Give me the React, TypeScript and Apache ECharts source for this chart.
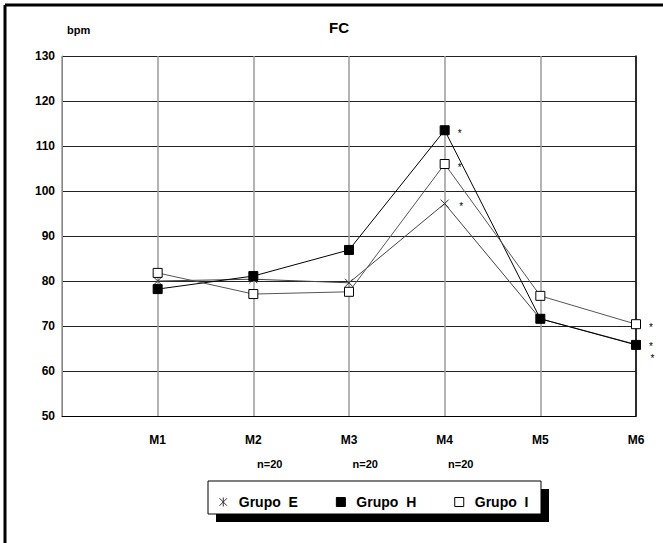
import React, { useEffect, useRef } from 'react';
import * as echarts from 'echarts';

const categories = ['M1', 'M2', 'M3', 'M4', 'M5', 'M6'];
const yTicks = [50, 60, 70, 80, 90, 100, 110, 120, 130];
const grupoE = [80.0, 80.4, 79.6, 97.2, 71.6, 65.9];
const grupoH = [78.2, 81.1, 86.9, 113.5, 71.6, 65.8];
const grupoI = [81.8, 77.1, 77.6, 106.0, 76.7, 70.4];
const signifE = [false, false, false, true, false, true];
const signifH = [false, false, false, true, false, true];
const signifI = [false, false, false, true, false, true];
const nLabels = ['n=20', 'n=20', 'n=20'];

const FONT = '"Liberation Sans", Arial, sans-serif';

function build(values: number[], sig: boolean[], lastShift: number) {
  return values.map((v, i) => ({
    value: [i + 1, v],
    label: sig[i]
      ? {
          show: true,
          formatter: '*',
          position: 'right',
          distance: 8,
          fontSize: 10,
          lineHeight: 7,
          fontFamily: FONT,
          color: '#000',
          offset: i === values.length - 1 ? [0, 3 + lastShift] : [0, 3],
        }
      : { show: false },
  }));
}

export default function App() {
  const ref = useRef<HTMLDivElement>(null);
  useEffect(() => {
    document.body.style.margin = '0';
    const chart = echarts.init(ref.current!, null, { renderer: 'svg' });
    const xMarker = 'path://M0,0L10,10M10,0L0,10';
    const asterisk = 'path://M0,0L10,10M10,0L0,10M5,-1L5,11';
    chart.setOption({
      animation: false,
      backgroundColor: '#fff',
      grid: { left: 62, right: 27, top: 56, bottom: 127 },
      xAxis: {
        type: 'value',
        min: 0,
        max: 6,
        interval: 1,
        axisLine: { show: true, lineStyle: { color: '#000', width: 1 } },
        axisTick: { show: false },
        axisLabel: {
          formatter: (v: number) => (v === 0 ? '' : categories[v - 1]),
          margin: 18,
          fontSize: 12,
          fontWeight: 'bold',
          fontFamily: FONT,
          color: '#000',
        },
        splitLine: { show: true, lineStyle: { color: '#9a9a9a', width: 1.5 } },
      },
      yAxis: [
        {
          type: 'value',
          min: yTicks[0],
          max: yTicks[yTicks.length - 1],
          interval: 10,
          axisLine: { show: true, lineStyle: { color: '#888', width: 1 } },
          axisTick: { show: false },
          axisLabel: {
            margin: 7,
            fontSize: 12,
            fontWeight: 'bold',
            fontFamily: FONT,
            color: '#000',
          },
          splitLine: { show: true, lineStyle: { color: '#222', width: 1 } },
        },
        {
          type: 'value',
          position: 'right',
          min: yTicks[0],
          max: yTicks[yTicks.length - 1],
          interval: 10,
          axisLine: { show: true, lineStyle: { color: '#000', width: 1.5 } },
          axisTick: { show: false },
          axisLabel: { show: false },
          splitLine: { show: false },
        },
      ],
      legend: {
        left: 212,
        top: 490,
        itemGap: 38,
        itemWidth: 9,
        itemHeight: 9,
        z: 10,
        formatter: (name: string) => name.replace(' ', '  '),
        textStyle: { fontSize: 14, fontWeight: 'bold', fontFamily: FONT, color: '#000', padding: [0, 0, 0, 6] },
        data: [
          { name: 'Grupo E', icon: asterisk, itemStyle: { color: 'none', borderColor: '#333', borderWidth: 1 } },
          { name: 'Grupo H', icon: 'rect', itemStyle: { color: '#000', borderColor: '#000', borderWidth: 1 } },
          { name: 'Grupo I', icon: 'rect', itemStyle: { color: '#fff', borderColor: '#000', borderWidth: 1 } },
        ],
      },
      graphic: [
        { type: 'line', shape: { x1: 5, y1: 5, x2: 663, y2: 5 }, style: { stroke: '#000', lineWidth: 3 } },
        { type: 'line', shape: { x1: 5, y1: 5, x2: 5, y2: 543 }, style: { stroke: '#000', lineWidth: 3 } },
        { type: 'text', left: 329, top: 20, style: { text: 'FC', font: `bold 15px ${FONT}`, fill: '#000' } },
        { type: 'text', left: 67, top: 24, style: { text: 'bpm', font: `bold 11px ${FONT}`, fill: '#000' } },
        ...nLabels.map((t, i) => ({
          type: 'text',
          left: 257 + i * 95.5,
          top: 458,
          style: { text: t, font: `bold 11px ${FONT}`, fill: '#000' },
        })),
        { type: 'rect', z: 1, shape: { x: 216, y: 489, width: 333, height: 33 }, style: { fill: '#000' } },
        { type: 'rect', z: 2, shape: { x: 208, y: 481, width: 333, height: 33 }, style: { fill: '#fff', stroke: '#000', lineWidth: 1 } },
      ],
      series: [
        {
          name: 'Grupo E',
          type: 'line',
          data: build(grupoE, signifE, 11),
          symbol: xMarker,
          symbolSize: 8,
          lineStyle: { color: '#444', width: 1 },
          itemStyle: { color: 'none', borderColor: '#333', borderWidth: 1 },
          z: 3,
        },
        {
          name: 'Grupo H',
          type: 'line',
          data: build(grupoH, signifH, -1),
          symbol: 'rect',
          symbolSize: 9,
          lineStyle: { color: '#000', width: 1 },
          itemStyle: { color: '#000', borderColor: '#000', borderWidth: 1 },
          z: 4,
        },
        {
          name: 'Grupo I',
          type: 'line',
          data: build(grupoI, signifI, 0),
          symbol: 'rect',
          symbolSize: 9,
          lineStyle: { color: '#555', width: 1 },
          itemStyle: { color: '#fff', borderColor: '#000', borderWidth: 1 },
          z: 5,
        },
      ],
    });
    return () => chart.dispose();
  }, []);
  return <div ref={ref} style={{ width: 663, height: 543, background: '#fff' }} />;
}
